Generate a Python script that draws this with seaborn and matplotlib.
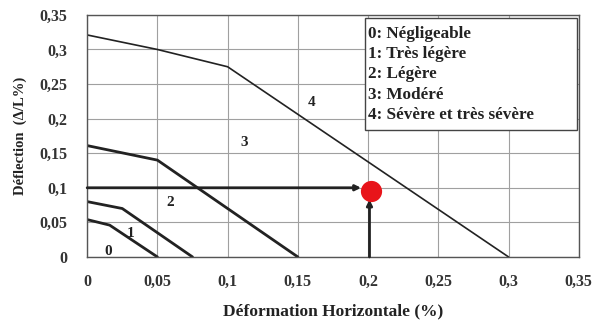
import matplotlib
matplotlib.use("Agg")
import matplotlib.pyplot as plt
from matplotlib.patches import Rectangle
import seaborn as sns
import pandas as pd

# Boundary curves (x: horizontal strain %, y: deflection %)
b0_x = [0.0, 0.016, 0.05]
b0_y = [0.054, 0.046, 0.0]
b1_x = [0.0, 0.025, 0.075]
b1_y = [0.08, 0.07, 0.0]
b2_x = [0.0, 0.05, 0.15]
b2_y = [0.161, 0.14, 0.0]
b3_x = [0.0, 0.05, 0.1, 0.3]
b3_y = [0.321, 0.30, 0.275, 0.0]

zone_labels = ["0", "1", "2", "3", "4"]
zone_x = [0.015, 0.031, 0.059, 0.112, 0.16]
zone_y = [0.008, 0.034, 0.078, 0.166, 0.224]

legend_lines = ["0: Négligeable", "1: Très légère", "2: Légère", "3: Modéré",
                "4: Sévère et très sévère"]

point_x = 0.2
point_y = 0.095

xticks = [0, 0.05, 0.1, 0.15, 0.2, 0.25, 0.3, 0.35]
yticks = [0, 0.05, 0.1, 0.15, 0.2, 0.25, 0.3, 0.35]

def fmt(v):
    return ("%g" % v).replace(".", ",")

sns.set_style("white")
plt.rcParams['font.family'] = ['Liberation Serif', 'DejaVu Serif']
plt.rcParams['font.weight'] = 'bold'

fig = plt.figure(figsize=(5.93, 3.24), dpi=100)
ax = fig.add_axes([0.147, 0.207, 0.829, 0.747])

curves = []
for name, xs, ys in [("b0", b0_x, b0_y), ("b1", b1_x, b1_y), ("b2", b2_x, b2_y)]:
    curves.append(pd.DataFrame({"x": xs, "y": ys, "c": name}))
df_thick = pd.concat(curves, ignore_index=True)
sns.lineplot(data=df_thick, x="x", y="y", units="c", estimator=None, sort=False,
             color="#222222", linewidth=2.0, ax=ax, legend=False)
df_thin = pd.DataFrame({"x": b3_x, "y": b3_y})
sns.lineplot(data=df_thin, x="x", y="y", estimator=None, sort=False,
             color="#222222", linewidth=1.2, ax=ax, legend=False)

# arrows
ax.annotate("", xy=(point_x - 0.005, 0.1), xytext=(0.0, 0.1),
            arrowprops=dict(arrowstyle="-|>", color="#222222", lw=2.0,
                            mutation_scale=8, shrinkA=0, shrinkB=0))
ax.annotate("", xy=(point_x + 0.001, 0.083), xytext=(point_x + 0.001, 0.0),
            arrowprops=dict(arrowstyle="-|>", color="#222222", lw=2.0,
                            mutation_scale=8, shrinkA=0, shrinkB=0))
sns.scatterplot(x=[point_x + 0.002], y=[point_y], color="#e8141a", s=200, ax=ax,
                edgecolor="#e8141a", zorder=5, legend=False)

for lab, x, y in zip(zone_labels, zone_x, zone_y):
    ax.text(x, y, lab, fontsize=11, fontweight="bold", ha="center", va="center",
            color="#222222")

# legend-like text box
ax.add_patch(Rectangle((0.565, 0.525), 0.431, 0.463, transform=ax.transAxes,
                       facecolor="white", edgecolor="#444444", linewidth=1.0,
                       zorder=6))
ax.text(0.571, 0.955, "\n".join(legend_lines), transform=ax.transAxes,
        fontsize=12.3, fontweight="bold", ha="left", va="top", color="#222222",
        linespacing=1.36, zorder=7)

ax.set_xlim(0, 0.35)
ax.set_ylim(0, 0.35)
ax.set_xticks(xticks)
ax.set_yticks(yticks)
ax.set_xticklabels([fmt(v) for v in xticks], fontsize=11.5, fontweight="bold")
ax.set_yticklabels([fmt(v) for v in yticks], fontsize=11.5, fontweight="bold")
ax.grid(True, color="#a0a0a0", linewidth=0.8)
ax.set_axisbelow(True)
for s in ax.spines.values():
    s.set_color("#555555")
    s.set_linewidth(1.0)
ax.tick_params(axis="x", length=0, pad=12, colors="#333333")
ax.tick_params(axis="y", length=0, pad=14, colors="#333333")

ax.set_xlabel("Déformation Horizontale (%)", fontsize=12.5, fontweight="bold",
              labelpad=10, color="#222222")
ax.set_ylabel("Déflection  (Δ/L%)", fontsize=10.5, fontweight="bold",
              labelpad=9, color="#222222")

fig.savefig("out.png", dpi=100)
